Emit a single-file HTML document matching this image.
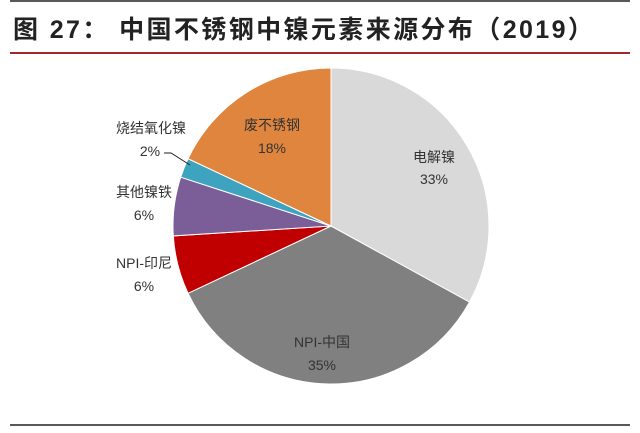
<!DOCTYPE html>
<html><head><meta charset="utf-8"><style>
body{margin:0;background:#fff;width:640px;height:428px;overflow:hidden;font-family:"Liberation Sans","Noto Sans CJK SC",sans-serif}
</style></head><body>
<svg width="640" height="428" xmlns="http://www.w3.org/2000/svg">
<line x1="10" y1="1" x2="630" y2="1" stroke="#222" stroke-width="1.5"/>
<text x="13" y="38" font-size="25" font-weight="bold" fill="#222" font-family="Liberation Sans,Noto Sans CJK SC,sans-serif" letter-spacing="2.4">图 27： 中国不锈钢中镍元素来源分布（2019）</text>
<line x1="10" y1="53" x2="630" y2="53" stroke="#a0282d" stroke-width="2"/>
<line x1="10" y1="425" x2="630" y2="425" stroke="#222" stroke-width="1.5"/>
<g id="pie" stroke="#fff" stroke-width="1"></g>
<g font-size="14" fill="#333" text-anchor="middle" font-family="Liberation Sans,Noto Sans CJK SC,sans-serif">
<text x="434" y="162">电解镍</text><text x="434" y="184">33%</text>
<text x="322" y="347">NPI-中国</text><text x="322" y="370">35%</text>
<text x="144" y="268">NPI-印尼</text><text x="144" y="291">6%</text>
<text x="144" y="197">其他镍铁</text><text x="144" y="220">6%</text>
<text x="151" y="133">烧结氧化镍</text><text x="150" y="156">2%</text>
<text x="272" y="130">废不锈钢</text><text x="272" y="153">18%</text>
</g>
<polyline points="164,153 171,153 190,165" fill="none" stroke="#222" stroke-width="1"/>
</svg>
<script>
var cx=331,cy=226,r=158;
var d=[[33,"#d9d9d9"],[35,"#808080"],[6,"#c00000"],[6,"#7b5d98"],[2,"#3ea3be"],[18,"#e0853e"]];
var g=document.getElementById("pie"),a=0,s="";
function p(t){var th=t/100*2*Math.PI;return (cx+r*Math.sin(th)).toFixed(2)+","+(cy-r*Math.cos(th)).toFixed(2);}
d.forEach(function(x){var b=a+x[0];s+='<path d="M'+cx+','+cy+' L'+p(a)+' A'+r+','+r+' 0 '+(x[0]>50?1:0)+' 1 '+p(b)+' Z" fill="'+x[1]+'"/>';a=b;});
g.innerHTML=s;
</script>
</body></html>
